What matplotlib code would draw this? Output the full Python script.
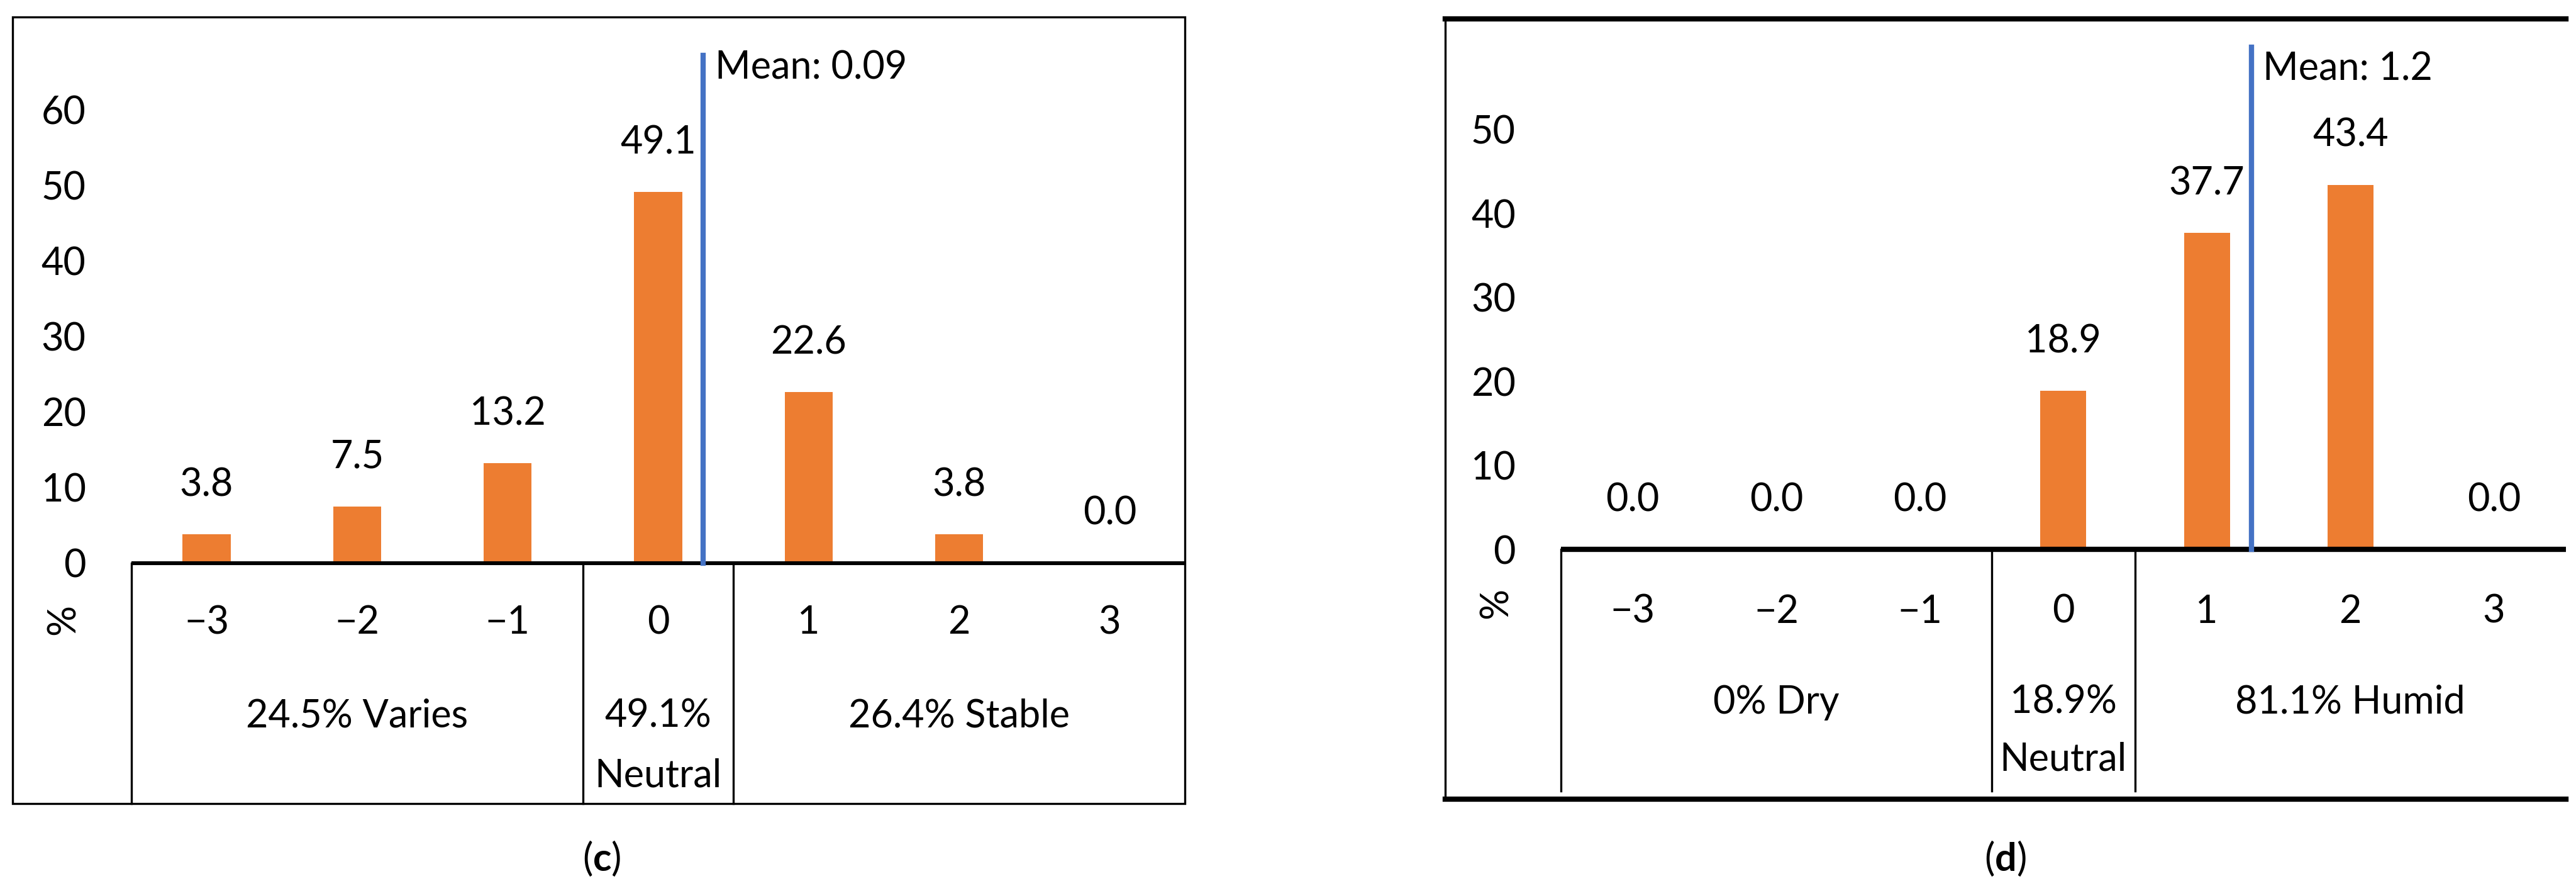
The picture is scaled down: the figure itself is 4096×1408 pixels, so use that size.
import matplotlib
matplotlib.use("Agg")
import matplotlib.pyplot as plt
from matplotlib.patches import Rectangle
from matplotlib.lines import Line2D

plt.rcParams['font.family'] = ['Lato', 'DejaVu Sans']
plt.rcParams['mathtext.fontset'] = 'custom'
plt.rcParams['mathtext.rm'] = 'Lato'
plt.rcParams['mathtext.bf'] = 'Lato:bold'

categories = [-3, -2, -1, 0, 1, 2, 3]
cat_labels = ['\u22123', '\u22122', '\u22121', '0', '1', '2', '3']
values_c = [3.8, 7.5, 13.2, 49.1, 22.6, 3.8, 0.0]
values_d = [0.0, 0.0, 0.0, 18.9, 37.7, 43.4, 0.0]
mean_c_label = 'Mean: 0.09'
mean_d_label = 'Mean: 1.2'
groups_c = ['24.5% Varies', '49.1%\nNeutral', '26.4% Stable']
groups_d = ['0% Dry', '18.9%\nNeutral', '81.1% Humid']

ORANGE = '#ED7D31'
BLUE = '#4472C4'
FS = 22

fig = plt.figure(figsize=(20.48, 7.04), dpi=200)

def panel(axpos, ylim, yticks, values, mean_pos, mean_top, mean_label, mean_text_y,
          groups, tick_y, group_y, neutral_y, div_bottom, pct_y, zero_lw):
    ax = fig.add_axes(axpos)
    ax.bar(categories, values, width=0.32, color=ORANGE, zorder=2)
    ax.set_xlim(-3.5, 3.5)
    ax.set_ylim(*ylim)
    for s in ax.spines.values():
        s.set_visible(False)
    ax.set_xticks([])
    ax.set_yticks(yticks)
    ax.tick_params(axis='y', length=0, labelsize=FS, pad=26)
    ax.axhline(0, color='black', lw=zero_lw, zorder=3)
    for i, (x, v) in enumerate(zip(categories, values)):
        ax.annotate(f'{v:.1f}', (x, v), xytext=(0, 18), textcoords='offset points',
                    ha='center', va='bottom', fontsize=FS)
        ax.text(x, tick_y, cat_labels[i], ha='center', va='center', fontsize=FS)
    ax.plot([mean_pos, mean_pos], [0, mean_top], color=BLUE, lw=3, zorder=4)
    ax.text(mean_pos + 0.08, mean_text_y, mean_label, ha='left', va='center', fontsize=FS)
    for xd in [-3.5, -0.5, 0.5]:
        ax.plot([xd, xd], [0, div_bottom], color='black', lw=1.2, clip_on=False)
    ax.text(-2, group_y, groups[0], ha='center', va='center', fontsize=FS)
    ax.text(0, group_y, groups[1].split('\n')[0], ha='center', va='center', fontsize=FS)
    ax.text(0, neutral_y, groups[1].split('\n')[1], ha='center', va='center', fontsize=FS)
    ax.text(2, group_y, groups[2], ha='center', va='center', fontsize=FS)
    ax.text(-3.95, pct_y, '%', rotation=90, ha='center', va='center', fontsize=FS)
    return ax

# panel (c)
fig.add_artist(Rectangle((0.005, 0.093), 0.455, 0.888, transform=fig.transFigure,
                         fill=False, ec='black', lw=1.2))
panel([0.051, 0.093, 0.409, 0.888], (-31.85, 72.3), [0, 10, 20, 30, 40, 50, 60],
      values_c, 0.3, 67.2, mean_c_label, 65.5, groups_c, -7.9, -20.3, -28.2, -31.85, -7.5, 2.2)
fig.text(0.2335, 0.031, r'($\mathbf{c}$)', ha='center', va='center', fontsize=FS)

# panel (d)
fig.add_artist(Line2D([0.561, 0.996], [0.979, 0.979], transform=fig.transFigure, color='black', lw=3))
fig.add_artist(Line2D([0.561, 0.996], [0.098, 0.098], transform=fig.transFigure, color='black', lw=3))
fig.add_artist(Line2D([0.561, 0.561], [0.098, 0.979], transform=fig.transFigure, color='black', lw=1.2))
panel([0.606, 0.098, 0.390, 0.881], (-29.7, 63.2), [0, 10, 20, 30, 40, 50],
      values_d, 1.31, 59.8, mean_d_label, 57.2, groups_d, -7.4, -18.2, -25.0, -28.7, -6.4, 3)
fig.text(0.7785, 0.031, r'($\mathbf{d}$)', ha='center', va='center', fontsize=FS)

fig.savefig('out.png', dpi=200)
